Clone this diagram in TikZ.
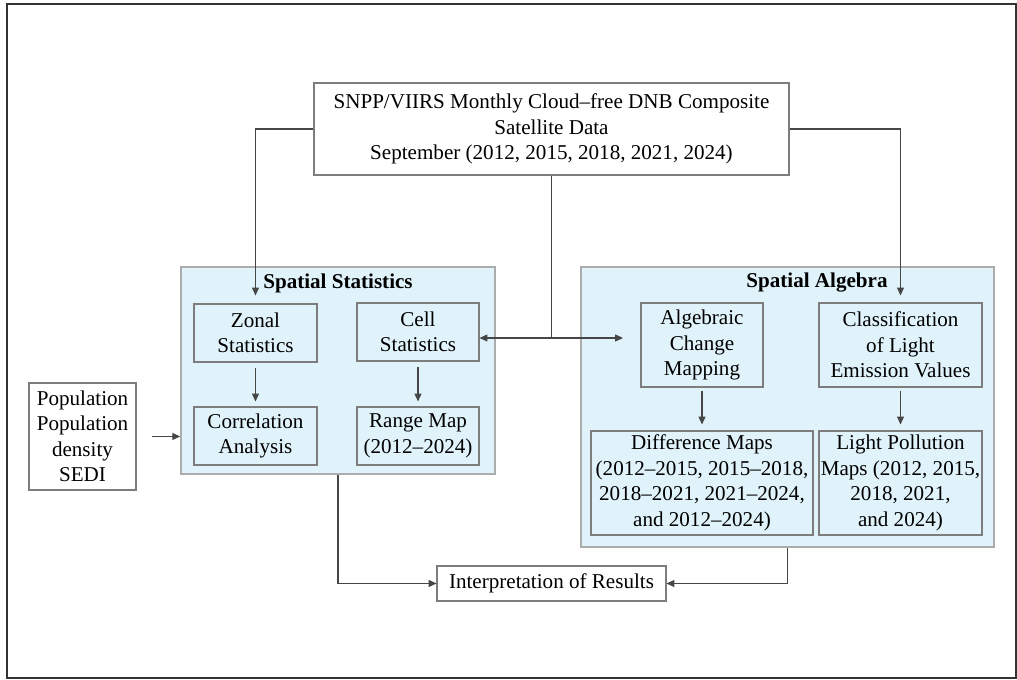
\documentclass[tikz,border=0pt]{standalone}
\usepackage{fontspec}
\setmainfont{Liberation Serif}
\usetikzlibrary{shapes,arrows,positioning,calc,arrows.meta}
\definecolor{panelblue}{RGB}{224,242,250}
\definecolor{linegray}{RGB}{70,70,70}
\definecolor{boxgray}{RGB}{125,125,125}
\tikzset{
    box/.style={draw=boxgray, line width=0.6pt, align=center, inner sep=0pt, font=\fontsize{12}{14.5}\selectfont},
    panel/.style={draw=gray!65, fill=panelblue, line width=0.9pt, inner sep=0pt},
    title/.style={font=\fontsize{12}{14.5}\selectfont\bfseries},
    link/.style={draw=linegray, line width=0.6pt},
    flow/.style={link, -{Triangle[length=4.5pt,width=4pt]}}
}

\begin{document}
\begin{tikzpicture}
    \useasboundingbox (0,0) rectangle (20.34,13.6);
    \draw[line width=1.5pt, draw=black!80] (0.14,0.04) rectangle (20.32,13.52);

    % Input data
    \node[box, minimum width=9.5cm, minimum height=1.84cm] (src) at (11.03,11.02)
        {SNPP/VIIRS Monthly Cloud--free DNB Composite\\Satellite Data\\September (2012, 2015, 2018, 2021, 2024)};
    \node[box, minimum width=2.14cm, minimum height=2.14cm] (pop) at (1.65,4.87)
        {Population\\Population\\density\\SEDI};

    % Panels
    \node[panel, minimum width=6.28cm, minimum height=4.14cm] (statpanel) at (6.76,6.19) {};
    \node[panel, minimum width=8.26cm, minimum height=5.6cm] (algpanel) at (15.75,5.46) {};
    \node[title] (stattitle) at (6.76,7.94) {Spatial Statistics};
    \node[title] (algtitle) at (16.34,7.94) {Spatial Algebra};

    % Spatial statistics steps
    \node[box, minimum width=2.46cm, minimum height=1.16cm] (zonal) at (5.11,6.94) {Zonal\\Statistics};
    \node[box, minimum width=2.44cm, minimum height=1.16cm] (cell) at (8.36,6.96) {Cell\\Statistics};
    \node[box, minimum width=2.46cm, minimum height=1.16cm] (corr) at (5.11,4.88) {Correlation\\Analysis};
    \node[box, minimum width=2.44cm, minimum height=1.16cm] (range) at (8.36,4.88) {Range Map\\(2012--2024)};

    % Spatial algebra steps
    \node[box, minimum width=2.44cm, minimum height=1.68cm] (alg) at (14.04,6.7) {Algebraic\\Change\\Mapping};
    \node[box, minimum width=3.26cm, minimum height=1.68cm] (class) at (18.01,6.7) {Classification\\of Light\\Emission Values};
    \node[box, minimum width=4.44cm, minimum height=2.08cm] (diff) at (14.04,3.94)
        {Difference Maps\\(2012--2015, 2015--2018,\\2018--2021, 2021--2024,\\and 2012--2024)};
    \node[box, minimum width=3.26cm, minimum height=2.08cm] (light) at (18.01,3.94)
        {Light Pollution\\Maps (2012, 2015,\\2018, 2021,\\and 2024)};

    % Output
    \node[box, minimum width=4.58cm, minimum height=0.7cm] (interp) at (11.03,1.93) {Interpretation of Results};

    % Connectors
    \coordinate (zonalin) at ([yshift=0.16cm]zonal.north);
    \coordinate (classin) at ([yshift=0.14cm]class.north);
    \coordinate (hub) at (11.03,6.84);
    \coordinate (algin) at (12.46,6.84);
    \draw[flow] (src.west) -| (zonalin);
    \draw[flow] (src.east) -| (classin);
    \draw[link] (src.south) -- (hub);
    \draw[flow] (hub) -- (hub -| cell.east);
    \draw[flow] (hub) -- (algin);

    \draw[flow, shorten <=0.1cm, shorten >=0.1cm] (zonal.south) -- (corr.north);
    \draw[flow, shorten <=0.1cm, shorten >=0.1cm] (cell.south) -- (range.north);
    \draw[flow, shorten <=0.06cm, shorten >=0.12cm] (alg.south) -- (diff.north);
    \draw[flow, shorten <=0.06cm, shorten >=0.12cm] (class.south) -- (light.north);
    \draw[flow, shorten <=0.3cm] (pop.east) -- (pop.east -| statpanel.west);

    \draw[flow] (statpanel.south) |- (interp.west);
    \draw[flow] (algpanel.south) |- (interp.east);
\end{tikzpicture}
\end{document}
